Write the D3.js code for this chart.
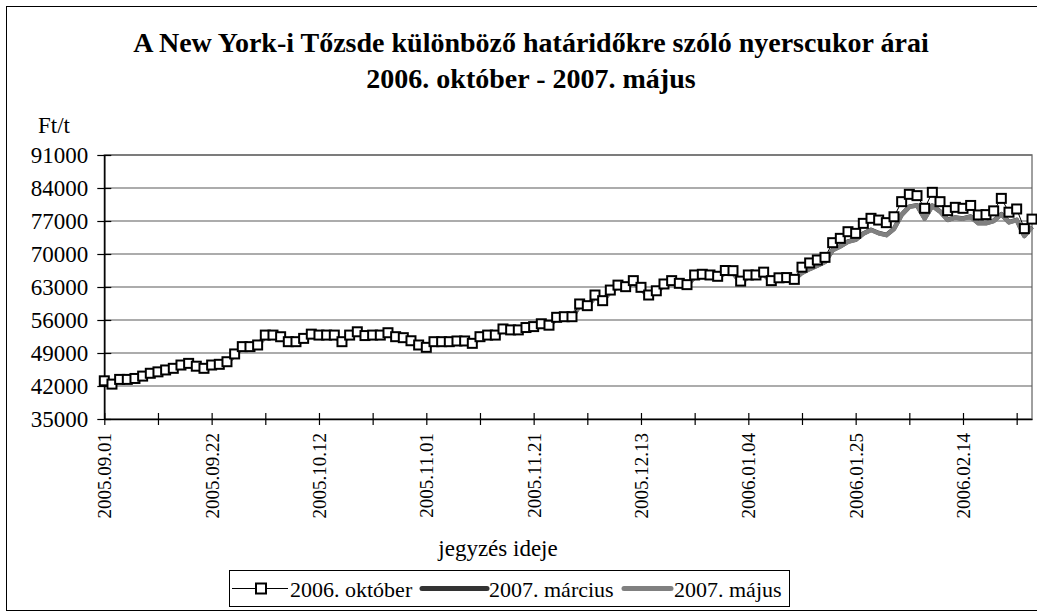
<!DOCTYPE html>
<html lang="hu">
<head>
<meta charset="utf-8">
<title>Nyerscukor árai</title>
<script src="https://d3js.org/d3.v7.min.js"></script>
<style>
  body { margin: 0; background: #fff; }
  svg { display: block; }
  svg text { font-family: "Liberation Serif", "Times New Roman", serif; fill: #000; }
</style>
</head>
<body>
<svg width="1037" height="613"></svg>
<script>
// category axis: one point per trading day, a tick every 7 days, a label every 14
var tickLabels = ["2005.09.01", "2005.09.22", "2005.10.12", "2005.11.01", "2005.11.21",
                  "2005.12.13", "2006.01.04", "2006.01.25", "2006.02.14"];
var tickEvery = 7, labelEvery = 14;
var yTicks = [35000, 42000, 49000, 56000, 63000, 70000, 77000, 84000, 91000];

var okt2006 = [43100, 42400, 43400, 43400, 43600, 44100, 44700, 45000, 45400, 45750,
  46450, 46800, 46200, 45750, 46450, 46600, 47150, 48800, 50350, 50350,
  50700, 52800, 52800, 52450, 51400, 51400, 52100, 53000, 52800, 52800,
  52800, 51400, 52800, 53500, 52700, 52800, 52800, 53300, 52460, 52250,
  51600, 50700, 50200, 51400, 51400, 51400, 51550, 51550, 51050, 52460,
  52800, 52800, 54100, 53900, 53900, 54400, 54600, 55200, 54900, 56570,
  56700, 56700, 59400, 59040, 61300, 60100, 62350, 63400, 63070, 64350,
  62930, 61300, 62200, 63640, 64350, 63780, 63500, 65550, 65700, 65550,
  65270, 66500, 66470, 64250, 65550, 65550, 66150, 64350, 64950, 65000,
  64620, 67200, 68100, 68730, 69290, 72400, 73320, 74730, 74380, 76500,
  77570, 77200, 76650, 77900, 81100, 82660, 82380, 79690, 83080, 81100,
  79190, 79900, 79690, 80300, 78280, 78350, 79150, 81800, 78870, 79550,
  75380, 77400];

var marc2007 = [42950, 42350, 43250, 43250, 43450, 43950, 44550, 44850, 45250, 45550,
  46250, 46550, 46050, 45650, 46250, 46450, 46950, 48550, 50150, 50150,
  50550, 52550, 52550, 52250, 51250, 51250, 51950, 52750, 52650, 52650,
  52550, 51350, 52550, 53250, 52550, 52650, 52650, 53050, 52350, 52050,
  51450, 50550, 50050, 51250, 51250, 51250, 51350, 51350, 50950, 52250,
  52550, 52650, 53850, 53750, 53750, 54150, 54350, 54950, 54750, 56350,
  56450, 56550, 59050, 58850, 60950, 59950, 62050, 63050, 62850, 63950,
  62650, 61050, 61950, 63350, 63950, 63450, 63250, 65150, 65350, 65250,
  64950, 66050, 66050, 63950, 65150, 65150, 65750, 64050, 64750, 64750,
  64650, 66050, 66850, 67550, 68350, 70850, 71650, 72650, 73050, 74350,
  75150, 74450, 74050, 75350, 78350, 80050, 80350, 77550, 80250, 79050,
  77250, 77750, 77550, 77950, 76550, 76550, 77050, 78450, 76750, 77250,
  73850, 75750];

var maj2007 = [42900, 42300, 43200, 43200, 43400, 43900, 44500, 44800, 45200, 45500,
  46200, 46500, 46000, 45600, 46200, 46400, 46900, 48500, 50100, 50100,
  50500, 52500, 52500, 52200, 51200, 51200, 51900, 52700, 52600, 52600,
  52500, 51300, 52500, 53200, 52500, 52600, 52600, 53000, 52300, 52000,
  51400, 50500, 50000, 51200, 51200, 51200, 51300, 51300, 50900, 52200,
  52500, 52600, 53800, 53700, 53700, 54100, 54300, 54900, 54700, 56300,
  56400, 56500, 59000, 58800, 60900, 59900, 62000, 63000, 62800, 63900,
  62600, 61000, 61900, 63300, 63900, 63400, 63200, 65100, 65300, 65200,
  64900, 66000, 66000, 63900, 65100, 65100, 65700, 64000, 64700, 64700,
  64600, 66000, 66800, 67500, 68300, 70800, 71600, 72600, 73000, 74300,
  75100, 74400, 74000, 75300, 78300, 80000, 80300, 77500, 80200, 79000,
  77200, 77700, 77500, 77900, 76500, 76500, 77000, 78400, 76700, 77200,
  73800, 75700];

var seriesNames = ["2006. október", "2007. március", "2007. május"];

var svg = d3.select("svg");
var n = okt2006.length;
var plotL = 104.3, plotR = 1032, plotT = 155, plotB = 419;

var x = d3.scaleLinear().domain([0, n - 1]).range([plotL, plotR]);
var y = d3.scaleLinear().domain([35000, 91000]).range([plotB, plotT]);

svg.append("rect").attr("width", 1037).attr("height", 613).attr("fill", "#fff");
// chart frame
svg.append("rect").attr("x", 6.5).attr("y", 6.5).attr("width", 1100).attr("height", 604)
  .attr("fill", "none").attr("stroke", "#000");

// title
var title = svg.append("text").attr("text-anchor", "middle")
  .style("font-size", "28px").style("font-weight", "bold");
title.append("tspan").attr("x", 531).attr("y", 52)
  .text("A New York-i Tőzsde különböző határidőkre szóló nyerscukor árai");
title.append("tspan").attr("x", 531).attr("y", 88).text("2006. október - 2007. május");

svg.append("text").attr("x", 38).attr("y", 133).style("font-size", "23px").text("Ft/t");

// plot area border + grid
svg.append("rect").attr("x", plotL).attr("y", plotT).attr("width", plotR - plotL).attr("height", plotB - plotT)
  .attr("fill", "none").attr("stroke", "#808080").attr("stroke-width", 1.5);
svg.append("g").selectAll("line").data(yTicks.slice(1)).enter().append("line")
  .attr("x1", plotL).attr("x2", plotR)
  .attr("y1", function(d) { return y(d); }).attr("y2", function(d) { return y(d); })
  .attr("stroke", "#5a5a5a").attr("stroke-width", 1.2);

// y axis
var gy = svg.append("g").attr("transform", "translate(" + plotL + ",0)")
  .call(d3.axisLeft(y).tickValues(yTicks).tickFormat(function(d) { return d; }).tickSizeOuter(0));
gy.attr("font-family", null);
gy.select(".domain").attr("stroke", "#000").attr("stroke-width", 1.5);
gy.selectAll(".tick line").attr("x1", -7).attr("x2", 7).attr("stroke", "#000").attr("stroke-width", 1.2);
gy.selectAll(".tick text").attr("x", -16).attr("dy", "0.33em").style("font-size", "23px");

// x axis
var gx = svg.append("g").attr("transform", "translate(0," + plotB + ")")
  .call(d3.axisBottom(x).tickValues(d3.range(0, n, tickEvery))
    .tickFormat(function(i) { return i % labelEvery === 0 ? tickLabels[i / labelEvery] : ""; })
    .tickSizeOuter(0));
gx.attr("font-family", null);
gx.select(".domain").attr("stroke", "#000").attr("stroke-width", 1.5);
gx.selectAll(".tick line").attr("y1", -6).attr("y2", 6).attr("stroke", "#000").attr("stroke-width", 1.2);
gx.selectAll(".tick text")
  .attr("transform", "rotate(-90)").attr("text-anchor", "end")
  .attr("x", -14).attr("y", 0).attr("dy", "0.35em")
  .style("font-size", "19px");

svg.append("text").attr("x", 498).attr("y", 556).attr("text-anchor", "middle")
  .style("font-size", "23px").text("jegyzés ideje");

// series
var line = d3.line().x(function(d, i) { return x(i); }).y(function(d) { return y(d); });
svg.append("path").datum(marc2007).attr("d", line).attr("fill", "none")
  .attr("stroke", "#333").attr("stroke-width", 4.5).attr("stroke-linejoin", "round");
svg.append("path").datum(maj2007).attr("d", line).attr("fill", "none")
  .attr("stroke", "#808080").attr("stroke-width", 4.5).attr("stroke-linejoin", "round");
svg.append("path").datum(okt2006).attr("d", line).attr("fill", "none")
  .attr("stroke", "#000").attr("stroke-width", 1);
svg.append("g").selectAll("rect").data(okt2006).enter().append("rect")
  .attr("x", function(d, i) { return x(i) - 4.5; })
  .attr("y", function(d) { return y(d) - 4.5; })
  .attr("width", 9).attr("height", 9)
  .attr("fill", "#fff").attr("stroke", "#000").attr("stroke-width", 2);

// legend
var lg = svg.append("g");
lg.append("rect").attr("x", 229.5).attr("y", 570.5).attr("width", 560).attr("height", 36)
  .attr("fill", "#fff").attr("stroke", "#000");
var ly = 588.5;
lg.append("line").attr("x1", 232).attr("x2", 288).attr("y1", ly).attr("y2", ly)
  .attr("stroke", "#000").attr("stroke-width", 1);
lg.append("rect").attr("x", 256).attr("y", ly - 5).attr("width", 10).attr("height", 10)
  .attr("fill", "#fff").attr("stroke", "#000").attr("stroke-width", 2);
lg.append("line").attr("x1", 422).attr("x2", 487).attr("y1", ly).attr("y2", ly)
  .attr("stroke", "#333").attr("stroke-width", 5).attr("stroke-linecap", "round");
lg.append("line").attr("x1", 624).attr("x2", 671).attr("y1", ly).attr("y2", ly)
  .attr("stroke", "#808080").attr("stroke-width", 5).attr("stroke-linecap", "round");
var lx = [290, 489, 674];
lg.selectAll("text.lab").data(seriesNames).enter().append("text").attr("class", "lab")
  .attr("x", function(d, i) { return lx[i]; }).attr("y", 596.5)
  .style("font-size", "22px").text(function(d) { return d; });
</script>
</body>
</html>
